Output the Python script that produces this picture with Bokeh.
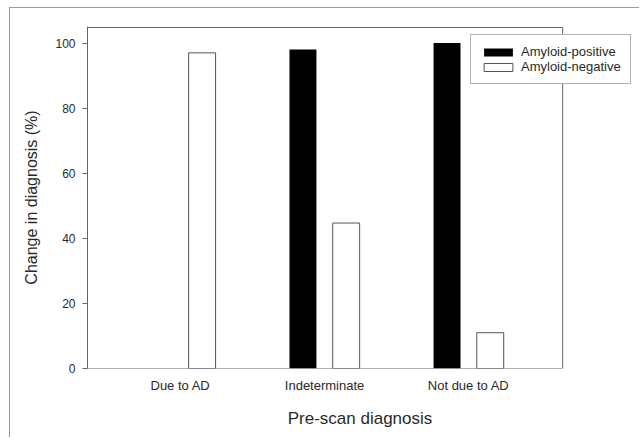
from bokeh.plotting import figure
from bokeh.models import ColumnDataSource, Range1d, Legend, LegendItem, FixedTicker
from bokeh.transform import dodge
from bokeh.embed import file_html
from bokeh.resources import INLINE

categories = ["Due to AD", "Indeterminate", "Not due to AD"]
amyloid_positive = [0, 98, 100]
amyloid_negative = [97, 44.7, 11]
series_names = ["Amyloid-positive", "Amyloid-negative"]
y_ticks = [0, 20, 40, 60, 80, 100]

positions = [i + 1 for i in range(len(categories))]
source = ColumnDataSource(data=dict(x=positions, pos=amyloid_positive, neg=amyloid_negative))

# visible axes box (data units) and extended frame so the legend may overhang
X_LO, X_HI = 0.3545, 3.6525
X_END = X_LO + 545 / 144.07
Y_TOP, Y_END = 104.8, 105.1

FONT = "Liberation Sans"
GRAY = "#666666"
TXT = "#2a2a2a"

p = figure(
    x_range=Range1d(X_LO, X_END),
    y_range=Range1d(0, Y_END),
    width=630, height=430,
    output_backend="svg", toolbar_location=None,
    min_border_left=77, min_border_top=18, min_border_right=8, min_border_bottom=70,
)
p.styles = {"margin-left": "9px", "margin-top": "7px",
            "border-left": "1px solid #999999", "border-top": "1px solid #999999"}

r_pos = p.vbar(x=dodge("x", -0.15), top="pos", width=0.187, source=source,
               fill_color="black", line_color=None)
r_neg = p.vbar(x=dodge("x", 0.15), top="neg", width=0.187, source=source,
               fill_color="white", line_color="#555555", line_width=1)

# axes box: top, right and bottom edges
p.line(x=[X_LO, X_HI, X_HI, X_LO], y=[Y_TOP, Y_TOP, 0, 0], line_color=GRAY, line_width=1)

p.xgrid.visible = False
p.ygrid.visible = False
p.outline_line_color = None

# y axis
p.yaxis.ticker = FixedTicker(ticks=y_ticks)
p.yaxis.minor_tick_line_color = None
p.yaxis.major_tick_in = 0
p.yaxis.major_tick_out = 5
p.yaxis.major_tick_line_color = GRAY
p.yaxis.axis_line_color = GRAY
p.yaxis.major_label_text_font = FONT
p.yaxis.major_label_text_font_size = "12px"
p.yaxis.major_label_text_color = TXT
p.yaxis.major_label_standoff = 7
p.yaxis.axis_label = "Change in diagnosis (%)"
p.yaxis.axis_label_text_font = FONT
p.yaxis.axis_label_text_font_size = "16px"
p.yaxis.axis_label_text_font_style = "normal"
p.yaxis.axis_label_text_color = TXT
p.yaxis.axis_label_standoff = 12

# x axis
p.xaxis.ticker = FixedTicker(ticks=positions)
p.xaxis.major_label_overrides = {pos: cat for pos, cat in zip(positions, categories)}
p.xaxis.major_tick_in = 0
p.xaxis.major_tick_out = 0
p.xaxis.minor_tick_line_color = None
p.xaxis.axis_line_color = None
p.xaxis.major_label_text_font = FONT
p.xaxis.major_label_text_font_size = "13px"
p.xaxis.major_label_text_color = TXT
p.xaxis.major_label_standoff = 9
p.xaxis.axis_label = "Pre-scan diagnosis"
p.xaxis.axis_label_text_font = FONT
p.xaxis.axis_label_text_font_size = "17px"
p.xaxis.axis_label_text_font_style = "normal"
p.xaxis.axis_label_text_color = TXT
p.xaxis.axis_label_standoff = 13

legend = Legend(
    items=[LegendItem(label=series_names[0], renderers=[r_pos]),
           LegendItem(label=series_names[1], renderers=[r_neg])],
    location=(383, 284),
    orientation="vertical",
    glyph_width=36, glyph_height=10,
    label_standoff=5, padding=9, spacing=0, margin=0,
    label_text_font=FONT, label_text_font_size="13px", label_text_color=TXT,
    border_line_color=GRAY, border_line_width=1,
    background_fill_color="white", background_fill_alpha=1,
)
p.add_layout(legend, "center")

open("out.html", "w").write(file_html(p, INLINE))
